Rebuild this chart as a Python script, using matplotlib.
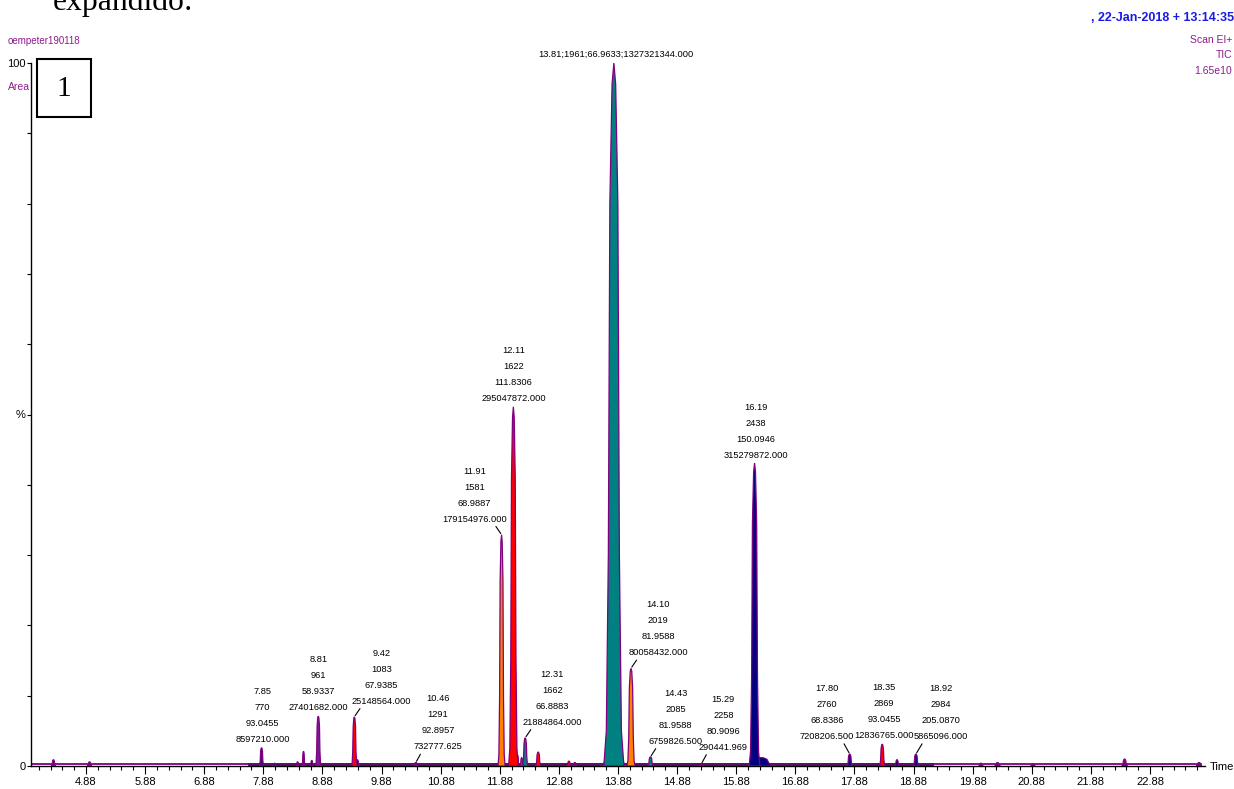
import matplotlib
matplotlib.use("Agg")
import matplotlib.pyplot as plt
from matplotlib.patches import Rectangle
from matplotlib.ticker import FixedLocator

# retention time window (min)
t_start, t_end = 3.95, 23.81

# labelled peaks
peak_rt = [7.85, 8.81, 9.42, 10.46, 11.91, 12.11, 12.31, 13.81, 14.10, 14.43, 15.29, 16.19, 17.80, 18.35, 18.92]
peak_height = [2.6, 7.1, 7.0, 0.5, 32.9, 51.1, 4.0, 100.0, 13.9, 1.3, 0.3, 43.1, 1.7, 3.1, 1.7]
peak_halfwidth = [0.04, 0.05, 0.05, 0.04, 0.06, 0.08, 0.05, 0.17, 0.07, 0.05, 0.04, 0.09, 0.05, 0.05, 0.05]
peak_scan = [770, 961, 1083, 1291, 1581, 1622, 1662, 1961, 2019, 2085, 2258, 2438, 2760, 2869, 2984]
peak_mz = ["93.0455", "58.9337", "67.9385", "92.8957", "68.9887", "111.8306", "66.8883", "66.9633",
           "81.9588", "81.9588", "80.9096", "150.0946", "68.8386", "93.0455", "205.0870"]
peak_area = ["8597210.000", "27401682.000", "25148564.000", "732777.625", "179154976.000",
             "295047872.000", "21884864.000", "1327321344.000", "80058432.000", "6759826.500",
             "290441.969", "315279872.000", "7208206.500", "12836765.000", "5865096.000"]

# unlabelled minor peaks / tails
minor_rt = [4.33, 4.94, 8.07, 8.46, 8.56, 8.70, 9.47, 12.18, 12.25, 12.53, 13.05, 13.15, 13.81, 16.30,
            18.60, 20.02, 20.30, 20.90, 22.45, 23.71]
minor_height = [0.9, 0.6, 0.4, 0.6, 2.1, 0.8, 0.9, 1.6, 1.2, 2.0, 0.7, 0.5, 3.0, 1.2,
                0.9, 0.4, 0.5, 0.3, 1.0, 0.5]
minor_halfwidth = [0.04, 0.04, 0.03, 0.03, 0.03, 0.03, 0.04, 0.03, 0.03, 0.05, 0.04, 0.04, 0.25, 0.25,
                   0.04, 0.04, 0.05, 0.04, 0.05, 0.05]

# baseline trace and integrated band
base_t = [t_start, 23.75]
base_y = [0.3, 0.3]
band_t = [7.62, 19.22]
band_y = 0.45

PURPLE = "#800080"
TEXT_PURPLE = "#8c1c8c"
peak_colors = ["#2a0a80", "#7a1a90", "#ff0000", "#800080", "#ff8000", "#ff0000", "#008080", "#008080",
               "#ff8000", "#008080", "#800080", "#000080", "#000080", "#ff0000", "#000080"]
minor_colors = [PURPLE, PURPLE, "#000080", PURPLE, PURPLE, "#000080", "#000080", "#000080", "#008080",
                "#ff0000", "#ff0000", PURPLE, "#008080", "#000080", "#000080", PURPLE, PURPLE, PURPLE,
                PURPLE, PURPLE]

# peak outline profile (fraction of half-width, fraction of height)
prof_x = [-1.0, -0.75, -0.55, -0.4, -0.18, 0.0, 0.18, 0.4, 0.55, 0.75, 1.0]
prof_y = [0.0, 0.05, 0.3, 0.8, 0.97, 1.0, 0.97, 0.8, 0.3, 0.05, 0.0]

# label offsets in pixels (dx, dy) and leader flag
label_offsets = [(1, 4), (0, 4), (27, 11), (22, 11), (-27, 11), (0, 4), (27, 11), (2, 4),
                 (27, 11), (25, 11), (22, 12), (1, 3), (-23, 13), (2, 4), (25, 13)]
label_leader = [False, False, True, True, True, False, True, False,
                True, True, True, False, True, False, True]

SANS = ["Liberation Sans", "DejaVu Sans"]
LFS = 6.7

fig = plt.figure(figsize=(12.34, 7.89), dpi=100)
W, H = 1234, 789
ax = fig.add_axes([31 / W, 23 / H, (1205 - 31) / W, (766 - 63) / H])
ax.set_xlim(t_start, t_end)
ax.set_ylim(0, 100)
ax.patch.set_alpha(0)


def outline(rt, h, w):
    return [rt + w * p for p in prof_x], [h * p for p in prof_y]


# baseline
ax.plot(base_t, base_y, color=PURPLE, lw=1.3, zorder=2)
ax.fill_between(band_t, 0, band_y, color="#5a1268", lw=0, zorder=2)

for rt, h, w, c in zip(minor_rt, minor_height, minor_halfwidth, minor_colors):
    xs, ys = outline(rt, h, w)
    ax.fill(xs, ys, facecolor=c, edgecolor=PURPLE, lw=0.8, zorder=3)

for rt, h, w, c in zip(peak_rt, peak_height, peak_halfwidth, peak_colors):
    xs, ys = outline(rt, h, w)
    ax.fill(xs, ys, facecolor=c, edgecolor=PURPLE, lw=0.9, zorder=4)

# peak annotations
for i, rt in enumerate(peak_rt):
    if rt == 13.81:
        txt = "%.2f;%d;%s;%s" % (rt, peak_scan[i], peak_mz[i], peak_area[i])
    else:
        txt = "%.2f\n%d\n%s\n%s" % (rt, peak_scan[i], peak_mz[i], peak_area[i])
    dx, dy = label_offsets[i]
    arrow = dict(arrowstyle="-", lw=0.8, color="black", shrinkA=0, shrinkB=1) if label_leader[i] else None
    ax.annotate(txt, xy=(rt, peak_height[i]), xytext=(dx, dy), textcoords="offset pixels",
                ha="center", va="bottom", multialignment="center", fontsize=LFS, family=SANS,
                linespacing=2.0, arrowprops=arrow, zorder=6, annotation_clip=False)

# axes styling
for s in ("top", "right"):
    ax.spines[s].set_visible(False)
ax.spines["left"].set_linewidth(1.0)
ax.spines["bottom"].set_linewidth(1.0)

major_x = [4.88 + k for k in range(19)]
minor_x = [round(4.08 + 0.2 * k, 2) for k in range(99) if 4.08 + 0.2 * k < 23.75]
ax.set_xticks(major_x)
ax.set_xticklabels(["%.2f" % v for v in major_x])
ax.xaxis.set_minor_locator(FixedLocator(minor_x))
ax.tick_params(axis="x", which="major", length=6, width=0.8, pad=2, labelsize=8)
ax.tick_params(axis="x", which="minor", length=3, width=0.8)
for lab in ax.get_xticklabels():
    lab.set_family(SANS)

yt = list(range(0, 101, 10))
ax.set_yticks(yt)
ax.set_yticklabels(["0" if v == 0 else "100" if v == 100 else "%" if v == 50 else "" for v in yt])
ax.tick_params(axis="y", length=3, width=0.8, pad=1, labelsize=8)
for lab in ax.get_yticklabels():
    lab.set_family(SANS)


# header texts
def fx(px):
    return px / W


def fy(py):
    return 1 - py / H


fig.text(fx(53), fy(10), "expandido:", family="Liberation Serif", fontsize=22.8, va="baseline", ha="left")
fig.text(fx(8), fy(41), "oempeter190118", color=TEXT_PURPLE, fontsize=7, family=SANS, va="center")
fig.text(fx(8), fy(87), "Area", color=TEXT_PURPLE, fontsize=7.5, family=SANS, va="center")
fig.patches.append(Rectangle((fx(37), fy(117)), fx(91) - fx(37), fy(59) - fy(117),
                             transform=fig.transFigure, fill=False, lw=1.5, ec="black"))
fig.text(fx(64), fy(89), "1", family="Liberation Serif", fontsize=21, ha="center", va="center")
fig.text(fx(1234), fy(18), ", 22-Jan-2018 + 13:14:35", color="#1a1ae6", fontsize=9, weight="bold",
         family=SANS, ha="right", va="center")
fig.text(fx(1232), fy(40), "Scan EI+", color=TEXT_PURPLE, fontsize=7.5, family=SANS, ha="right", va="center")
fig.text(fx(1232), fy(55), "TIC", color=TEXT_PURPLE, fontsize=7.5, family=SANS, ha="right", va="center")
fig.text(fx(1232), fy(71), "1.65e10", color=TEXT_PURPLE, fontsize=7.5, family=SANS, ha="right", va="center")
fig.text(fx(1210), fy(767), "Time", fontsize=8, family=SANS, ha="left", va="center")

fig.savefig("out.png", dpi=100)
